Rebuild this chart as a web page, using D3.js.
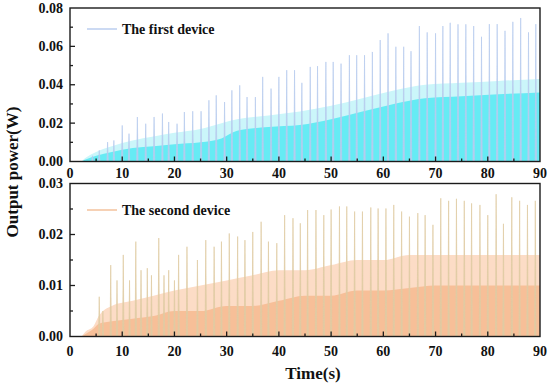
<!DOCTYPE html>
<html><head><meta charset="utf-8">
<script src="https://cdn.jsdelivr.net/npm/d3@7/dist/d3.min.js"></script>
<style>html,body{margin:0;padding:0;background:#fff;}svg{display:block;font-family:"Times New Roman","Liberation Serif",serif;font-weight:bold;}</style>
</head><body><svg id="c" width="550" height="385"></svg>
<script>
// ---------- data ----------
const xTicks = [0,10,20,30,40,50,60,70,80,90];
const topYTicks = [0,0.02,0.04,0.06,0.08];
const botYTicks = [0,0.01,0.02,0.03];
const seriesNames = ["The first device","The second device"];

// first device: tall spikes (time s, power W)
const topPeakT = [4.3,5.6,7.2,8.4,10.0,11.3,12.9,14.5,16.1,17.7,18.9,20.5,21.9,23.5,25.1,26.6,28.0,29.6,31.0,32.5,33.9,35.5,36.9,38.5,40.0,41.5,43.0,44.4,46.0,47.4,49.0,50.4,51.9,53.5,54.9,56.4,57.9,59.4,60.9,62.4,63.9,65.3,66.9,68.4,70.0,71.4,72.8,74.3,75.8,77.3,78.8,80.3,81.8,83.3,84.8,86.3,87.8,89.2];
const topPeakV = [0.003,0.0058,0.0101,0.011,0.0188,0.0145,0.0232,0.0197,0.0232,0.025,0.0206,0.0197,0.0258,0.0262,0.0262,0.0319,0.0345,0.031,0.0371,0.0397,0.0336,0.0336,0.0441,0.038,0.0441,0.0476,0.0476,0.041,0.0493,0.0497,0.0519,0.0519,0.051,0.0554,0.0554,0.0554,0.0571,0.0633,0.0668,0.0598,0.0598,0.0575,0.0706,0.0673,0.0668,0.0706,0.0723,0.0715,0.0715,0.0706,0.065,0.0716,0.0716,0.0681,0.0728,0.0748,0.0673,0.0716];
// first device: envelope of dense oscillation and of secondary peaks
const topBandT = [0,2,3,5,8,12,16,20,25,29,32,38,44,50,56,62,68,75,82,90];
const topDenseV = [0,0,0.001,0.003,0.005,0.007,0.008,0.009,0.010,0.012,0.016,0.018,0.019,0.022,0.026,0.030,0.033,0.034,0.035,0.036];
const topLightV = [0,0,0.002,0.005,0.008,0.011,0.013,0.015,0.017,0.020,0.022,0.024,0.026,0.029,0.033,0.037,0.040,0.041,0.042,0.043];

// second device: tall spikes
const botPeakT = [5.6,6.3,7.8,9.0,10.2,11.4,12.6,13.6,14.8,15.6,17.0,18.0,18.9,20.0,20.8,22.4,24.4,26.0,27.6,29.0,30.5,32.1,33.5,35.0,36.6,38.0,39.6,41.1,42.7,44.1,45.5,47.1,48.6,50.0,51.6,53.0,54.5,56.0,57.6,59.0,60.5,62.0,63.5,65.0,66.6,68.0,69.5,71.0,72.5,74.0,75.5,76.9,78.5,80.0,81.6,83.0,84.6,86.1,87.6,89.1];
const botPeakV = [0.0078,0.005,0.014,0.011,0.016,0.011,0.0186,0.013,0.0134,0.012,0.0193,0.012,0.013,0.011,0.016,0.0176,0.015,0.0189,0.0176,0.0186,0.0202,0.0196,0.0189,0.0205,0.0225,0.0186,0.0183,0.0238,0.0232,0.0222,0.0248,0.0248,0.0238,0.0249,0.0255,0.0255,0.0245,0.0245,0.0253,0.0251,0.0251,0.0258,0.0245,0.0235,0.0242,0.0238,0.0219,0.0271,0.0266,0.027,0.0266,0.0261,0.0258,0.0238,0.0279,0.0221,0.0273,0.0266,0.0258,0.0266];
const botBandT = [0,2,3,4.5,5.5,8,12,16,20,25,30,35,40,45,50,55,60,65,70,80,90];
const botDenseV = [0,0,0.0005,0.0015,0.0025,0.003,0.0035,0.004,0.005,0.005,0.006,0.006,0.007,0.008,0.008,0.009,0.009,0.0095,0.010,0.010,0.010];
const botLightV = [0,0,0.001,0.002,0.004,0.006,0.007,0.008,0.009,0.010,0.011,0.012,0.013,0.013,0.014,0.015,0.015,0.016,0.016,0.016,0.016];

// ---------- drawing ----------
const svg = d3.select("#c");
const x = d3.scaleLinear().domain([0,90]).range([70,540]);
const panels = [
  {y: d3.scaleLinear().domain([0,0.08]).range([161.5,8]), yTicks: topYTicks, minor: 0.01, fmt: d3.format(".2f"),
   pt: topPeakT, pv: topPeakV, bt: topBandT, dv: topDenseV, lv: topLightV,
   dense:"#66ebf4", light:"#cbf6fa", spike:"#b7cbee", legend:"#b7cbee", name: seriesNames[0], legY: 29, xlabY: 173},
  {y: d3.scaleLinear().domain([0,0.03]).range([336.5,183.5]), yTicks: botYTicks, minor: 0.005, fmt: d3.format(".2f"),
   pt: botPeakT, pv: botPeakV, bt: botBandT, dv: botDenseV, lv: botLightV,
   dense:"#f7bf98", light:"#fcdcc6", spike:"#dfcba3", legend:"#f3bd96", name: seriesNames[1], legY: 210, xlabY: 351}
];

panels.forEach(p => {
  const g = svg.append("g");
  const y = p.y;
  const band = (vals) => d3.area().x((d,i)=>x(p.bt[i])).y0(y(0)).y1((d)=>y(d)).curve(d3.curveMonotoneX)(vals);
  g.append("path").attr("d", band(p.lv)).attr("fill", p.light);
  g.append("path").attr("d", band(p.dv)).attr("fill", p.dense);
  // spikes
  const sp = g.append("g");
  p.pt.forEach((t,i) => {
    const v = p.pv[i];
    sp.append("path")
      .attr("d", d3.line()([[x(t-0.13), y(0)], [x(t), y(v)], [x(t+0.13), y(0)]]))
      .attr("fill", p.spike).attr("stroke", p.spike).attr("stroke-width", 0.7);
  });
  // frame
  g.append("rect").attr("x", x(0)).attr("y", y.range()[1]).attr("width", x(90)-x(0)).attr("height", y.range()[0]-y.range()[1])
    .attr("fill","none").attr("stroke","#1b1b1b").attr("stroke-width",1.4);
  // x ticks (inward)
  const y0 = y(0);
  d3.range(0,91,5).forEach(t => {
    const major = t % 10 === 0;
    if (t===0 || t===90) return;
    g.append("line").attr("x1",x(t)).attr("x2",x(t)).attr("y1",y0).attr("y2",y0-(major?5:3))
      .attr("stroke","#1b1b1b").attr("stroke-width",1.3);
  });
  xTicks.forEach(t => {
    g.append("text").attr("x", x(t)).attr("y", p.xlabY).attr("text-anchor","middle").attr("dominant-baseline","central")
      .attr("font-size",14).attr("fill","#111").text(t);
  });
  // y ticks
  const ymax = y.domain()[1];
  d3.range(0, ymax + 1e-9, p.minor).forEach(v => {
    if (v < 1e-9 || Math.abs(v-ymax) < 1e-9) return;
    const major = p.yTicks.some(m => Math.abs(m-v) < 1e-9);
    g.append("line").attr("x1",x(0)).attr("x2",x(0)+(major?5:3)).attr("y1",y(v)).attr("y2",y(v))
      .attr("stroke","#1b1b1b").attr("stroke-width",1.3);
  });
  p.yTicks.forEach(v => {
    g.append("text").attr("x", 63).attr("y", y(v)).attr("text-anchor","end").attr("dominant-baseline","central")
      .attr("font-size",14).attr("fill","#111").text(p.fmt(v));
  });
  // legend
  g.append("line").attr("x1",87).attr("x2",117).attr("y1",p.legY).attr("y2",p.legY).attr("stroke",p.legend).attr("stroke-width",1.4);
  g.append("text").attr("x",122).attr("y",p.legY).attr("dominant-baseline","central").attr("font-size",14).attr("fill","#111").text(p.name);
});

svg.append("text").attr("x",313).attr("y",373).attr("text-anchor","middle").attr("dominant-baseline","central")
  .attr("font-size",17).attr("fill","#111").text("Time(s)");
svg.append("text").attr("transform","translate(12,172) rotate(-90)").attr("text-anchor","middle").attr("dominant-baseline","central")
  .attr("font-size",17).attr("fill","#111").text("Output power(W)");
</script></body></html>
